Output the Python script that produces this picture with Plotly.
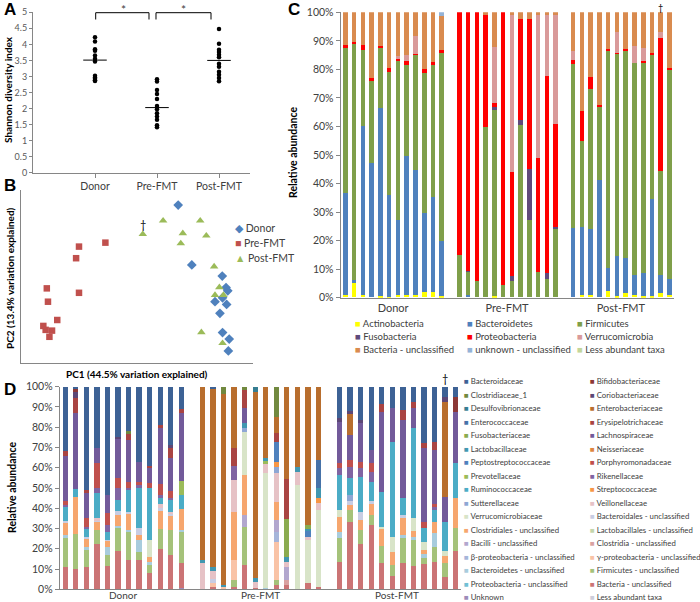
import numpy as np
import plotly.graph_objects as go

W, H = 700, 602
FONT = "Lato, sans-serif"
GRAY = "#868686"
TXT = "#404040"

# ---------------- Panel A : Shannon diversity ----------------
A_GROUPS = ["Donor", "Pre-FMT", "Post-FMT"]
A_DONOR = [4.22, 4.09, 3.85, 3.80, 3.65, 3.55, 3.47, 3.02, 2.97, 2.93, 2.88, 2.86]
A_PRE = [2.91, 2.84, 2.58, 2.45, 2.30, 2.08, 1.98, 1.85, 1.75, 1.65, 1.48, 1.42]
A_POST = [4.48, 4.02, 3.83, 3.76, 3.68, 3.60, 3.40, 3.30, 3.15, 3.05, 2.95, 2.85]

# ---------------- Panel B : PCA ----------------
B_NAMES = ["Donor", "Pre-FMT", "Post-FMT"]
B_DONOR_PC1 = [0.142, 0.189, 0.294, 0.307, 0.313, 0.295, 0.269, 0.309, 0.286, 0.295, 0.318, 0.315]
B_DONOR_PC2 = [0.339, 0.097, 0.052, 0.005, -0.008, -0.036, -0.052, -0.063, -0.099, -0.177, -0.203, -0.251]
B_PRE_PC1 = [-0.109, -0.200, -0.210, -0.311, -0.200, -0.307, -0.275, -0.323, -0.315, -0.293, -0.302]
B_PRE_PC2 = [0.187, 0.171, 0.124, 0.002, -0.016, -0.052, -0.126, -0.150, -0.166, -0.169, -0.194]
B_POST_PC1 = [0.020, 0.090, 0.218, 0.158, 0.239, 0.151, 0.266, 0.284, 0.269, 0.298, 0.222, 0.295]
B_POST_PC2 = [0.221, 0.276, 0.276, 0.225, 0.215, 0.184, 0.090, 0.006, -0.025, -0.025, -0.176, -0.220]

# ---------------- Panel C : phylum level (12 donor, 12 pre, 12 post) ----------------
GROUPS = ["Donor", "Pre-FMT", "Post-FMT"]
C_NAMES = ["Actinobacteria", "Bacteroidetes", "Firmicutes", "Fusobacteria", "Proteobacteria",
           "Verrucomicrobia", "Bacteria - unclassified", "unknown - unclassified", "Less abundant taxa"]
C_ACT = [1, 5, 1, 0, 0.5, 0.3, 1, 0.8, 0.8, 2, 1.8, 0.5,
         0, 0, 0, 0, 0.5, 0, 0, 0, 0, 0, 0, 0,
         0, 1, 1, 0, 2.1, 0.5, 1.5, 1, 0.5, 0.5, 1.5, 1]
C_BCT = [35.5, 1, 58.9, 47.1, 65.7, 35.7, 26.2, 48.6, 43.9, 27.6, 33.4, 19.1,
         0, 1, 0, 0, 0, 0, 0, 0, 0, 0, 0, 0,
         24.3, 23.5, 23, 41.2, 8.2, 13.9, 12.3, 6.9, 8, 34, 6.5, 5.5]
C_FIR = [51, 83.1, 26.9, 28.8, 21.2, 43, 55.8, 32.1, 40.3, 49.2, 46.3, 66,
         15, 8.1, 5.8, 59.6, 65.3, 4.4, 5.6, 60.5, 27.2, 8.8, 6.4, 24,
         57.6, 30.4, 49, 25.5, 76.3, 70.9, 72.4, 74.2, 73.5, 50.5, 36.2, 73.5]
C_FUS = [0, 0, 0, 0, 0, 0, 0, 0, 0, 0, 0, 0,
         0, 0.3, 0, 0, 0.8, 0, 1.8, 1.8, 17.8, 0, 2.1, 0.5,
         0, 0, 0, 0, 0, 0, 0, 0, 0, 0, 0, 0]
C_PRO = [1, 0.4, 1.5, 1.1, 0.6, 1.4, 0.6, 1.5, 0.3, 1.2, 1, 1,
         85, 90.6, 94.2, 39.2, 1.5, 95.6, 36.5, 35.4, 52.7, 40.2, 69.2, 36.4,
         1.4, 10.5, 4.2, 0.8, 0.4, 0.5, 0.8, 0, 1, 0.5, 46.7, 0.5]
C_VER = [0, 0, 0, 0, 0, 0, 1, 2, 6.2, 0, 0, 0,
         0, 0, 0, 0, 19.5, 0, 54.9, 0, 0, 49.8, 21.1, 37.9,
         2.9, 0, 0, 0, 0, 7.1, 0, 6.1, 4.4, 0, 2.1, 0]
C_BUN = [11.5, 10.5, 11.7, 23, 12, 19.6, 15.4, 15, 8.5, 20, 17.5, 12,
         0, 0, 0, 1.2, 12.4, 0, 1.2, 2.3, 2.3, 1.2, 1.2, 1.2,
         13.8, 34.6, 22.8, 32.5, 13, 7.1, 13, 11.8, 12.6, 14.5, 7, 19.5]
C_UNK = [0, 0, 0, 0, 0, 0, 0, 0, 0, 0, 0, 1.4,
         0, 0, 0, 0, 0, 0, 0, 0, 0, 0, 0, 0,
         0, 0, 0, 0, 0, 0, 0, 0, 0, 0, 0, 0]
C_LAT = [0, 0, 0, 0, 0, 0, 0, 0, 0, 0, 0, 0,
         0, 0, 0, 0, 0, 0, 0, 0, 0, 0, 0, 0,
         0, 0, 0, 0, 0, 0, 0, 0, 0, 0, 0, 0]
C_COLORS = ["#FFFF00", "#4F81BD", "#7F9F4A", "#604A7B", "#FF0000",
            "#D99A9A", "#D98B4F", "#95B3D7", "#C3D69B"]
C_VALUES = [C_ACT, C_BCT, C_FIR, C_FUS, C_PRO, C_VER, C_BUN, C_UNK, C_LAT]

# ---------------- Panel D : family level ----------------
D_NAMES = ["Bacteroidaceae", "Bifidobacteriaceae", "Clostridiaceae_1", "Coriobacteriaceae",
           "Desulfovibrionaceae", "Enterobacteriaceae", "Enterococcaceae", "Erysipelotrichaceae",
           "Fusobacteriaceae", "Lachnospiraceae", "Lactobacillaceae", "Neisseriaceae",
           "Peptostreptococcaceae", "Porphyromonadaceae", "Prevotellaceae", "Rikenellaceae",
           "Ruminococcaceae", "Streptococcaceae", "Sutterellaceae", "Veillonellaceae",
           "Verrucomicrobiaceae", "Bacteroidales - unclassified", "Clostridiales - unclassified",
           "Lactobacillales - unclassified", "Bacilli - unclassified", "Clostridia - unclassified",
           "β-proteobacteria - unclassified", "γ-proteobacteria - unclassified",
           "Bacteroidetes - unclassified", "Firmicutes - unclassified",
           "Proteobacteria - unclassified", "Bacteria - unclassified", "Unknown", "Less abundant taxa"]
D_COLORS = ["#3D6295", "#8C3836", "#71893F", "#5C4776", "#357D91", "#B86E2E", "#4672A8", "#A94442",
            "#8AAB4F", "#725A9A", "#4197B0", "#DE8540", "#4F81BD", "#C0504D", "#9BBB59", "#8064A2",
            "#4BACC6", "#F79646", "#8EA7D4", "#E6C2C6", "#D8E4C8", "#C8CDE3", "#F6A66E", "#C4D6AC",
            "#B2A7CE", "#D9A2A1", "#A5B5DA", "#F9C3A6", "#A8CCDD", "#A5C27A", "#71C0D5", "#CB7475",
            "#9C8BB9", "#CDCDDA"]

D_BAC = [31.5, 0.6, 50.8, 30.3, 53.3, 24.5, 21.7, 36.8, 38.8, 18.7, 28.6, 11.0,
         0, 0.7, 0, 0, 0, 0, 0, 0, 0, 0, 1.0, 0,
         15.1, 12.0, 16.3, 31.1, 8.6, 10.5, 11.3, 7.2, 27.8, 27.0, 4.8, 4.8]
D_BIF = [0, 2.0, 0, 0, 0, 0, 0, 0, 0, 0, 0, 0,
         0, 0, 0, 0, 0, 0, 0, 0, 0, 0, 0, 0,
         0, 0, 0, 0, 0, 0, 0, 0, 0, 0, 0, 7.4]
D_CL1 = [0, 0, 0, 0, 0, 0, 1.7, 0, 0, 0, 0, 0,
         0, 0, 3.6, 0, 1.6, 0, 0, 14.6, 0, 0, 0, 0,
         0, 0, 0, 0, 0, 0, 0, 0, 0, 0, 0, 0]
D_COR = [0, 2.7, 0, 0, 0, 0.8, 0, 0, 0, 0, 1.7, 0,
         0, 0, 0, 0, 0, 0, 0, 0, 0, 0, 0, 0,
         2.0, 1.5, 1.6, 0, 0, 0, 0, 0, 0, 0, 2.8, 0]
D_DES = [0, 0, 0, 0, 0, 0, 0, 0, 0, 0, 0, 0,
         0, 0, 0, 0, 0, 2.3, 0, 0, 0, 0, 0, 0,
         0, 0, 0, 0, 0, 0, 0, 0, 0, 0, 0, 0]
D_ENB = [0, 0, 0, 0, 0, 0, 0, 0, 0, 0, 0, 0,
         85.5, 88.3, 93.9, 30.0, 0, 92.1, 35.2, 8.3, 45.2, 39.3, 67.9, 36.0,
         0, 10.0, 0, 0, 0, 0, 0, 0, 0, 0, 46.5, 0]
D_ENC = [0, 0, 0, 0, 0, 0, 0, 0, 0, 0, 0, 0,
         0, 0, 0, 0, 0, 0, 0, 0, 0, 0, 0, 14.0,
         0, 0, 0, 0, 0, 0, 0, 0, 0, 0, 0, 0]
D_ERY = [2.5, 7.7, 1.7, 0, 0, 0, 2.8, 0, 1.3, 1.3, 4.9, 1.7,
         0, 0, 0, 9.0, 8.9, 0, 0, 4.1, 19.8, 0, 0, 0,
         0, 0, 0, 0, 3.6, 0, 5.0, 3.3, 2.5, 4.1, 0, 0]
D_FUS = [0, 0, 0, 0, 0, 0, 0, 0, 0, 0, 0, 0,
         0, 0, 0, 0, 0, 0, 0, 0, 18.9, 0, 2.1, 0,
         0, 0, 0, 0, 0, 0, 0, 0, 0, 0, 0, 0]
D_LAC = [22.5, 37.5, 12.3, 7.4, 9.0, 19.4, 20.5, 9.9, 7.4, 28.0, 16.1, 33.7,
         0, 0, 0, 0, 7.5, 0, 0, 0, 0, 0, 0, 0,
         20.6, 12.5, 18.9, 6.6, 39.4, 16.5, 38.7, 9.9, 36.1, 26.5, 12.3, 25.5]
D_LCB = [0, 0, 0, 0, 0, 0, 0, 0, 0, 0, 0, 0,
         1.3, 2.0, 1.0, 0, 2.4, 1.7, 1.4, 0, 2.5, 2.5, 0.8, 5.0,
         0, 0, 0, 0, 0, 0, 0, 0, 0, 0, 0, 0]
D_NEI = [0, 0, 0, 0, 0, 0, 0, 0, 0, 0, 0, 0,
         0, 0, 0, 0, 0, 0, 0, 0, 0, 0, 0, 0,
         0, 0, 0, 0, 0, 0, 0, 0, 0, 0, 0, 0]
D_PEP = [0, 0, 0, 0, 0, 0, 0, 0, 0, 0, 0, 0,
         0, 0, 0, 0, 0, 0, 0, 9.8, 0, 0, 2.8, 0,
         0, 0, 0, 0, 0, 0, 0, 0, 0, 0, 0, 0]
D_POR = [1.5, 0, 4.2, 12.3, 5.8, 5.3, 3.3, 1.8, 2.5, 5.5, 3.3, 0,
         0, 0, 0, 0, 0, 0, 0, 0, 0, 0, 0, 0,
         2.4, 3.5, 3.3, 4.1, 0, 0, 0, 0, 3.3, 1.6, 0, 0]
D_PRE = [0, 0, 0, 0, 0, 0, 0, 0, 0, 0, 0, 6.9,
         0, 0, 0, 0, 0, 0, 1.6, 0, 0, 0, 0, 0,
         0, 0, 0, 0, 0, 0, 0, 0, 0, 0, 0, 0]
D_RIK = [1.0, 0, 0.7, 2.5, 3.3, 5.8, 0.8, 1.5, 0, 1.5, 0.7, 0,
         0, 0, 0, 6.9, 0, 0, 0, 0, 0, 0, 0, 0,
         3.3, 5.5, 4.1, 5.2, 0, 0, 0, 0, 0, 1.5, 0, 0]
D_RUM = [7.0, 3.6, 4.1, 12.0, 4.1, 5.4, 10.7, 19.7, 25.5, 2.9, 6.2, 7.1,
         0, 0, 0, 0, 0, 0, 0, 0, 0, 0, 0, 0,
         17.3, 8.5, 17.3, 9.3, 17.3, 46.8, 8.2, 44.4, 6.6, 5.7, 14.5, 17.3]
D_STR = [0, 0, 0, 0, 0, 0, 0, 0, 0, 0, 0, 0,
         0, 0, 0, 0, 0, 0, 0, 2.5, 0, 0, 0, 2.4,
         0, 0, 0, 0, 0, 0, 0, 0, 0, 0, 0, 0]
D_SUT = [0, 0, 0, 0, 0, 0, 0, 0, 0, 0, 0, 0,
         0, 0, 0, 0, 1.6, 0, 0, 3.3, 0, 0, 0, 0,
         0, 3.0, 0, 0, 0, 0, 0, 0, 0, 0, 0, 0]
D_VEI = [0, 0, 0, 1.6, 0, 0, 0, 0, 0, 2.0, 1.3, 0,
         12.7, 4.0, 0, 15.6, 0, 2.9, 4.4, 14.0, 2.4, 6.6, 1.7, 3.3,
         0, 0, 0, 0, 0, 0, 0, 0, 0, 0, 0, 0]
D_VER = [0, 0, 0, 0, 0, 0, 0, 0, 8.2, 0, 0, 0,
         0, 0, 0, 0, 21.4, 0, 56.4, 0, 0, 51.6, 21.4, 37.8,
         3.3, 0, 0, 0, 0.8, 7.4, 0, 6.3, 4.3, 0, 2.5, 0]
D_BDU = [1.3, 0, 0.9, 0.4, 0.5, 2.0, 0.8, 3.3, 0, 1.1, 0.5, 0,
         0, 1.5, 0, 0, 0, 0, 0, 0, 0, 0, 0, 0,
         0, 1.5, 4.1, 1.6, 0, 0, 1.6, 0, 0, 0, 0, 0]
D_CLU = [5.7, 18.6, 4.1, 4.1, 2.8, 5.3, 8.3, 2.5, 2.5, 9.1, 7.3, 10.2,
         0, 0, 0, 23.9, 19.8, 0, 0, 9.0, 0, 0, 0, 0,
         7.7, 2.7, 5.0, 5.3, 8.8, 6.6, 8.2, 2.8, 2.0, 5.8, 3.6, 14.4]
D_LBU = [0, 0, 0, 0, 0, 0, 0, 0, 0, 0, 0, 0,
         0, 0, 0, 0, 0, 0, 0, 0, 0, 0, 0, 0,
         0, 0, 0, 0, 0, 0, 0, 0, 0, 0, 0, 0]
D_BAU = [0, 0, 0, 0, 0, 0, 0, 0, 0, 0, 0, 0,
         0, 0, 0, 0, 5.8, 0, 0, 5.8, 6.6, 0, 0, 0,
         0, 0, 0, 0, 0, 0, 0, 0, 0, 0, 0, 0]
D_CAU = [0, 0, 0, 0, 0, 0, 0, 0, 0, 0, 0, 0,
         0, 0, 0, 0, 0, 0, 0, 0, 2.1, 0, 0, 0,
         0, 0, 0, 0, 0, 0, 0, 0, 0, 0, 0, 0]
D_BPU = [0, 0, 0, 0, 0, 0, 0, 0, 0, 0, 0, 0,
         0, 0, 0, 0, 0, 0, 0, 4.9, 0, 0, 0, 0,
         0, 0, 0, 0, 0, 0, 0, 0, 0, 0, 0, 0]
D_GPU = [0, 0, 0, 0, 0, 0, 0, 0, 0, 0, 0, 0,
         0, 2.0, 1.5, 9.8, 0, 0, 0, 18.9, 0, 0, 0, 0,
         0, 0, 0, 0, 0, 0, 0, 0, 0, 0, 0, 0]
D_BTU = [1.3, 0, 1.6, 0, 4.1, 1.2, 0.8, 5.7, 1.6, 0, 0, 1.1,
         0, 0, 0, 0, 0, 0, 1.0, 0, 0, 0, 0, 0,
         3.0, 0, 0, 0, 0, 0, 1.3, 1.6, 1.6, 6.6, 0, 0]
D_FIU = [14.4, 17.1, 8.3, 6.9, 5.4, 11.1, 14.0, 4.2, 3.8, 10.0, 12.3, 15.0,
         0, 0, 0, 3.3, 18.8, 0, 0, 2.5, 0, 0, 0, 0,
         11.5, 5.8, 6.9, 4.9, 8.5, 5.3, 12.7, 12.8, 3.3, 7.4, 6.6, 11.5]
D_PRU = [0, 0, 0, 0, 0, 0, 0, 0, 0, 0, 0, 0,
         0, 0, 0, 0, 0, 0, 0, 0, 0, 0, 0, 0,
         0, 0, 0, 0, 0, 0, 0, 0, 0, 0, 0, 0]
D_BXU = [11.3, 10.2, 11.3, 22.5, 11.7, 19.2, 14.6, 14.6, 8.4, 19.9, 17.1, 12.3,
         0.5, 1.5, 0, 1.5, 12.2, 1.0, 0, 2.3, 2.5, 0, 3.1, 1.5,
         13.8, 33.5, 22.5, 31.9, 13.0, 6.9, 13.0, 11.7, 12.5, 13.8, 6.4, 19.1]
D_UNK = [0, 0, 0, 0, 0, 0, 0, 0, 0, 0, 0, 1.0,
         0, 0, 0, 0, 0, 0, 0, 0, 0, 0, 0, 0,
         0, 0, 0, 0, 0, 0, 0, 0, 0, 0, 0, 0]
D_LAT = [0, 0, 0, 0, 0, 0, 0, 0, 0, 0, 0, 0,
         0, 0, 0, 0, 0, 0, 0, 0, 0, 0, 0, 0,
         0, 0, 0, 0, 0, 0, 0, 0, 0, 0, 0, 0]
D_VALUES = [D_BAC, D_BIF, D_CL1, D_COR, D_DES, D_ENB, D_ENC, D_ERY, D_FUS, D_LAC, D_LCB, D_NEI,
            D_PEP, D_POR, D_PRE, D_RIK, D_RUM, D_STR, D_SUT, D_VEI, D_VER, D_BDU, D_CLU, D_LBU,
            D_BAU, D_CAU, D_BPU, D_GPU, D_BTU, D_FIU, D_PRU, D_BXU, D_UNK, D_LAT]

PCT_TICKS = list(range(0, 101, 10))


# ---------------- helpers ----------------
def px(x):
    return x / W


def py(y):
    return 1 - y / H


N_PER = 12
# slot of each sample: one blank slot between groups
BAR_X = [g * (N_PER + 1) + j for g in range(len(GROUPS)) for j in range(N_PER)]
GROUP_CENTER = [g * (N_PER + 1) + (N_PER - 1) / 2 for g in range(len(GROUPS))]

fig = go.Figure()

# ---- Panel A
for i, vals in enumerate([A_DONOR, A_PRE, A_POST]):
    xpos = i + 1
    fig.add_trace(go.Scatter(x=[xpos] * len(vals), y=vals, mode="markers",
                             marker=dict(color="black", size=4.5), xaxis="x", yaxis="y",
                             showlegend=False, cliponaxis=False))
    med = float(np.median(vals))
    fig.add_trace(go.Scatter(x=[xpos - 0.19, xpos + 0.19], y=[med, med], mode="lines",
                             line=dict(color="black", width=1), xaxis="x", yaxis="y",
                             showlegend=False))

# ---- Panel B
B_SERIES = [(B_DONOR_PC1, B_DONOR_PC2, "diamond", "#4F81BD", 7.5),
            (B_PRE_PC1, B_PRE_PC2, "square", "#C0504D", 6.5),
            (B_POST_PC1, B_POST_PC2, "triangle-up", "#9BBB59", 7.5)]
for name, (xs, ys, sym, col, sz) in zip(B_NAMES, B_SERIES):
    fig.add_trace(go.Scatter(x=xs, y=ys, mode="markers", name=name,
                             marker=dict(symbol=sym, color=col, size=sz, line=dict(width=0)),
                             xaxis="x2", yaxis="y2", showlegend=False, cliponaxis=False))

# ---- Panel C
for name, vals, col in zip(C_NAMES, C_VALUES, C_COLORS):
    fig.add_trace(go.Bar(x=BAR_X, y=vals, name=name, marker=dict(color=col, line=dict(width=0)),
                         width=0.52, xaxis="x3", yaxis="y3", showlegend=False))

# ---- Panel D (stack: last legend entry at bottom)
for name, vals, col in list(zip(D_NAMES, D_VALUES, D_COLORS))[::-1]:
    fig.add_trace(go.Bar(x=BAR_X, y=vals, name=name, marker=dict(color=col, line=dict(width=0)),
                         width=0.5, xaxis="x4", yaxis="y4", showlegend=False))

ann = []


def text(t, x, y, size, color="black", bold=False, xanchor="center", yanchor="middle",
         angle=0, family=FONT):
    ann.append(dict(text=("<b>%s</b>" % t) if bold else t, x=px(x), y=py(y), xref="paper",
                    yref="paper", showarrow=False, xanchor=xanchor, yanchor=yanchor,
                    textangle=angle, font=dict(size=size, color=color, family=family)))


# panel letters
for letter, x, y in [("A", 2, 10), ("B", 2, 185), ("C", 286, 9), ("D", 2, 389)]:
    text(letter, x, y, 17, bold=True, xanchor="left", family="Arial, Liberation Sans, sans-serif")

# axis titles
text("Shannon diversity index", 8, 90, 10, bold=True, angle=-90)
text("PC1 (44.5% variation explained)", 137, 374, 10, bold=True)
text("PC2 (13.4% variation explained)", 10, 278, 10, bold=True, angle=-90)
text("Relative abundance", 293, 153, 10.5, bold=True, angle=-90)
text("Relative abundance", 12, 488, 10.5, bold=True, angle=-90)

# significance stars
text("*", 123, 9, 12, color=TXT)
text("*", 183, 9, 12, color=TXT)

# legend B
for i, (name, glyph, col) in enumerate(zip(B_NAMES, ["◆", "■", "▲"],
                                           ["#4F81BD", "#C0504D", "#9BBB59"])):
    text('<span style="color:%s">%s</span> %s' % (col, glyph, name), 233, 228 + 15 * i, 10.5,
         color=TXT, xanchor="left")

# legend C (3 columns)
for i, (name, col) in enumerate(zip(C_NAMES, C_COLORS)):
    r, c = divmod(i, 3)
    text('<span style="color:%s">■</span> %s' % (col, name), [353, 465, 575][c], 323 + 13.3 * r,
         9.5, color=TXT, xanchor="left")

# legend D (2 columns)
for i, (name, col) in enumerate(zip(D_NAMES, D_COLORS)):
    r, c = divmod(i, 2)
    text('<span style="color:%s">■</span> %s' % (col, name), [462, 588][c], 381 + 13.5 * r,
         7.8, color=TXT, xanchor="left")

# group labels under panel D (kept inside the page)
for g, name in enumerate(GROUPS):
    ann.append(dict(text=name, x=GROUP_CENTER[g], y=py(595), xref="x4", yref="paper",
                    showarrow=False, xanchor="center", yanchor="middle",
                    font=dict(size=10, color=TXT, family=FONT)))

# daggers
ann.append(dict(text="†", x=B_POST_PC1[0], y=B_POST_PC2[0], xref="x2", yref="y2", yshift=10,
                showarrow=False, font=dict(size=11, color="black", family=FONT)))
ann.append(dict(text="†", x=BAR_X[2 * N_PER + 10], y=100, xref="x3", yref="y3", yshift=5,
                yanchor="middle", showarrow=False, font=dict(size=9, color="black", family=FONT)))
ann.append(dict(text="†", x=BAR_X[2 * N_PER + 10], y=100, xref="x4", yref="y4", yshift=8,
                showarrow=False, font=dict(size=11, color="black", family=FONT)))

shapes = []
for x0, x1 in [(95.7, 149), (156, 211)]:
    shapes.append(dict(type="path", xref="paper", yref="paper",
                       path="M %f %f L %f %f L %f %f L %f %f" % (px(x0), py(19.5), px(x0), py(12.7),
                                                                 px(x1), py(12.7), px(x1), py(19.5)),
                       line=dict(color="black", width=1)))

axis_common = dict(showgrid=False, zeroline=False, linecolor=GRAY, tickcolor=GRAY, automargin=False)
pct_text = ["%d%%" % v for v in PCT_TICKS]

fig.update_layout(
    width=W, height=H, margin=dict(l=0, r=0, t=0, b=0, autoexpand=False),
    paper_bgcolor="white", plot_bgcolor="white",
    barmode="stack", bargap=0,
    font=dict(family=FONT, color=TXT),
    annotations=ann, shapes=shapes,
    xaxis=dict(domain=[px(33), px(250)], range=[0, 3.5], tickvals=[1, 2, 3], ticktext=A_GROUPS,
               showline=True, ticks="outside", ticklen=4, anchor="y",
               tickfont=dict(size=10.5, color=TXT), **axis_common),
    yaxis=dict(domain=[py(172.7), py(12.3)], range=[0, 5], dtick=0.5, showline=True,
               ticks="outside", ticklen=3, anchor="x", tickfont=dict(size=9, color="#595959"),
               **axis_common),
    xaxis2=dict(domain=[px(21), px(253)], range=[-0.4, 0.4], showticklabels=False, showline=True,
                ticks="", anchor="y2", **axis_common),
    yaxis2=dict(domain=[py(363), py(190)], range=[-0.3, 0.4], showticklabels=False, showline=True,
                ticks="", anchor="x2", **axis_common),
    xaxis3=dict(domain=[px(340.6), px(673.5)], range=[-0.5, 37.5], tickvals=GROUP_CENTER,
                ticktext=GROUPS, showline=True, ticks="", anchor="y3",
                tickfont=dict(size=11, color=TXT), **axis_common),
    yaxis3=dict(domain=[py(297.7), py(12.3)], range=[0, 100], tickvals=PCT_TICKS,
                ticktext=pct_text, showline=True, ticks="outside", ticklen=4, anchor="x3",
                tickfont=dict(size=10.5, color=TXT), **axis_common),
    xaxis4=dict(domain=[px(59.7), px(460.6)], range=[-0.5, 37.5], showticklabels=False,
                showline=True, ticks="", anchor="y4", **axis_common),
    yaxis4=dict(domain=[py(589.3), py(386.7)], range=[0, 100], tickvals=PCT_TICKS,
                ticktext=pct_text, showline=True, ticks="outside", ticklen=4, anchor="x4",
                tickfont=dict(size=10.5, color=TXT), **axis_common),
)

# the page's default 8px body margin would push the 700x602 figure out of the window
fig.write_html("out.html", config={"displayModeBar": False},
               post_script="document.body.style.margin='0px';")
